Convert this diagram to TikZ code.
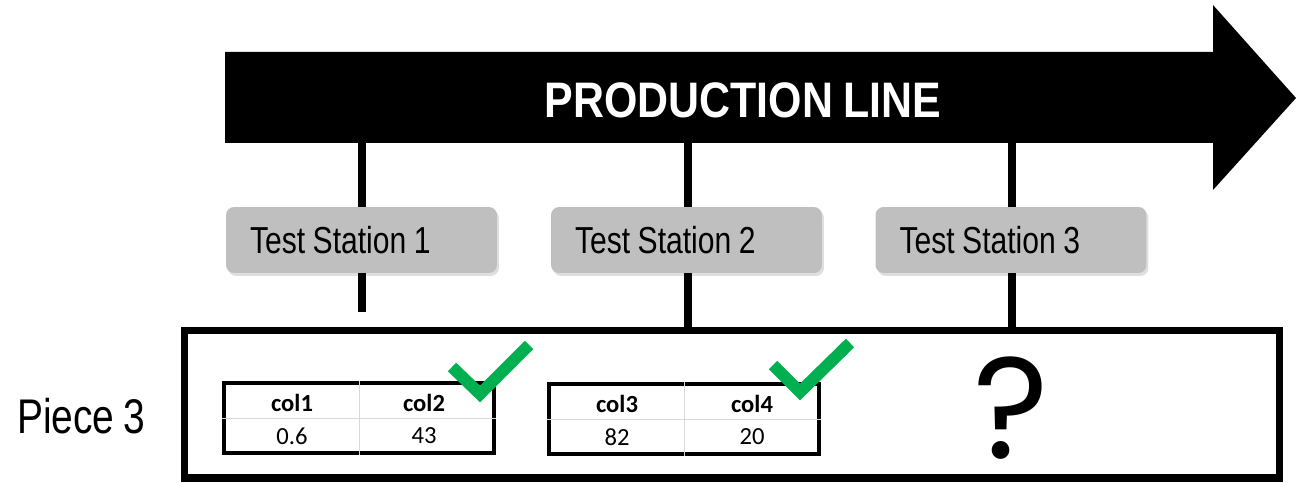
\documentclass[tikz,border=0pt]{standalone}
\usepackage{fontspec}
\setmainfont{Liberation Sans}
\newfontfamily\narrowsans[FakeStretch=0.8, WordSpace=0.8]{Liberation Sans}
\newfontfamily\titlesans[FakeStretch=0.86, WordSpace=0.85]{Liberation Sans}
\newfontfamily\cellfont{Carlito}
\newfontfamily\qmarkfont{Poppins}
\usepackage{tikz}
\usetikzlibrary{positioning,calc,shadows}
\definecolor{StationGray}{HTML}{BFBFBF}
\definecolor{CheckGreen}{HTML}{00B050}
\definecolor{GridGray}{HTML}{D9D9D9}

\tikzset{
  station/.style={fill=StationGray, rounded corners=0.16cm, minimum height=1.32cm,
    text width=4.46cm, inner xsep=0.48cm,
    font=\narrowsans\fontsize{21.4}{24}\selectfont,
    execute at begin node={\spaceskip=0.2em\relax},
    drop shadow={opacity=0.25, shadow xshift=0.04cm, shadow yshift=-0.06cm}},
  stem/.style={line width=4.4pt},
  tablebox/.style={draw, line width=2.2pt, minimum width=5.4cm, minimum height=1.4cm},
  head/.style={font=\cellfont\bfseries\fontsize{14}{16}\selectfont},
  cell/.style={font=\cellfont\fontsize{14}{16}\selectfont},
  tick/.style={CheckGreen, line width=6.8pt, miter limit=10},
}

\begin{document}
\begin{tikzpicture}[x=0.02cm, y=-0.02cm]
  \useasboundingbox (0,0) rectangle (1296,483);

  % production line arrow
  \fill (225,52) -- (1213,52) -- (1213,5) -- (1296,98) -- (1213,190)
    -- (1213,143) -- (225,143) -- cycle;
  \node[text=white, font=\titlesans\bfseries\fontsize{28.4}{30}\selectfont]
    (line) at (743,100) {PRODUCTION LINE};

  % the piece under test
  \node[draw, line width=4pt, minimum width=21.9cm, minimum height=2.96cm]
    (piece) at (732,404) {};
  \node[font=\narrowsans\fontsize{27.7}{30}\selectfont] (label) at (81,416) {Piece 3};

  % test stations
  \node[station] (st1) at (361.5,240) {Test Station 1};
  \node[station] (st2) at (686.5,240) {Test Station 2};
  \node[station] (st3) at (1011,240) {Test Station 3};

  \coordinate (top1) at (362,140);
  \coordinate (top2) at (688,140);
  \coordinate (top3) at (1012,140);
  \draw[stem] (top1) -- (top1 |- st1.north);
  \draw[stem] (top2) -- (top2 |- st2.north);
  \draw[stem] (top3) -- (top3 |- st3.north);
  \draw[stem] (top1 |- st1.south) -- (362,312);
  \draw[stem] (top2 |- st2.south) -- (top2 |- piece.north);
  \draw[stem] (top3 |- st3.south) -- (top3 |- piece.north);

  % results of station 1
  \node[tablebox] (tab1) at (359,418) {};
  \draw[GridGray, thin] (tab1.north) -- (tab1.south);
  \draw[GridGray, thin] (tab1.west) -- (tab1.east);
  \node[head] (c1) at (292,403) {col1};
  \node[head] (c2) at (424,403) {col2};
  \node[cell] (v1) at (292,436) {0.6};
  \node[cell] (v2) at (424,436) {43};

  % results of station 2
  \node[tablebox] (tab2) at (684,419) {};
  \draw[GridGray, thin] (tab2.north) -- (tab2.south);
  \draw[GridGray, thin] (tab2.west) -- (tab2.east);
  \node[head] (c3) at (617,404) {col3};
  \node[head] (c4) at (752,404) {col4};
  \node[cell] (v3) at (617,437) {82};
  \node[cell] (v4) at (752,437) {20};

  % passed checks
  \draw[tick] (452,367) -- (480,394) -- (529,345);
  \draw[tick] (773,365) -- (800,392) -- (850,343);

  % station 3 still open
  \node[inner sep=0pt, anchor=base, text height=58pt, text depth=0pt,
    font=\qmarkfont\fontsize{82}{84}\selectfont] (open) at (1011,458) {?};
\end{tikzpicture}
\end{document}
